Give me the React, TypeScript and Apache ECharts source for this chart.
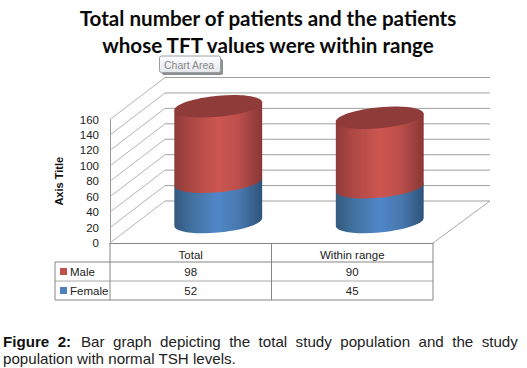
import React, { useEffect, useRef } from "react";
import * as echarts from "echarts";

const categories = ["Total", "Within range"];
const maleValues = [98, 90];
const femaleValues = [52, 45];
const yTicks = [0, 20, 40, 60, 80, 100, 120, 140, 160];
const seriesRows = [
  { name: "Male", color: "#c0504d", values: maleValues },
  { name: "Female", color: "#4f81bd", values: femaleValues },
];
const titleText = "Total number of patients and the patients\nwhose TFT values were within range";
const captionBold = "Figure  2:";
const captionLine1 = "Bar  graph  depicting  the  total  study  population  and  the  study";
const captionLine2 = "population with normal TSH levels.";

const G = { left: 110, right: 433, top: 119.5, bottom: 243 };
const DEPTH = { x: 55, y: 42 };

const redGrad = () =>
  new echarts.graphic.LinearGradient(0, 0, 1, 0, [
    { offset: 0, color: "#8e3a38" },
    { offset: 0.18, color: "#ab4744" },
    { offset: 0.5, color: "#cd5650" },
    { offset: 0.72, color: "#bd4f4b" },
    { offset: 1, color: "#893836" },
  ]);
const blueGrad = () =>
  new echarts.graphic.LinearGradient(0, 0, 1, 0, [
    { offset: 0, color: "#33597f" },
    { offset: 0.2, color: "#41719f" },
    { offset: 0.5, color: "#5087c8" },
    { offset: 0.75, color: "#4777ad" },
    { offset: 1, color: "#2f5379" },
  ]);

// half of a sheared ellipse, from the right end round the front to the left end (sign 1) or back (sign -1)
function halfEllipse(cx: number, cy: number, a: number, b: number, s: number, sign: number) {
  const k = 0.5523;
  const P = (u: number, v: number) => `${cx + u} ${cy + v - u * s}`;
  if (sign > 0) {
    return `C${P(a, k * b)} ${P(k * a, b)} ${P(0, b)}C${P(-k * a, b)} ${P(-a, k * b)} ${P(-a, 0)}`;
  }
  return `C${P(-a, -k * b)} ${P(-k * a, -b)} ${P(0, -b)}C${P(k * a, -b)} ${P(a, -k * b)} ${P(a, 0)}`;
}

function cylinderRender(isTop: boolean) {
  return (params: any, api: any) => {
    const cat = api.value(0);
    const top = api.value(1);
    const base = api.value(2);
    const band = api.size([1, 0])[0];
    const a = band * 0.272;
    const b = 10.5;
    const s = 0.09;
    const pTop = api.coord([cat, top]);
    const pBase = api.coord([cat, base]);
    const cx = pTop[0] + DEPTH.x / 2;
    const yT = pTop[1] - DEPTH.y / 2;
    const yB = pBase[1] - DEPTH.y / 2;
    const L = cx - a;
    const R = cx + a;
    const body =
      `M${L} ${yT + a * s}L${R} ${yT - a * s}L${R} ${yB - a * s}` +
      halfEllipse(cx, yB, a, b, s, 1) +
      "Z";
    const children: any[] = [
      {
        type: "path",
        shape: { pathData: body },
        style: { fill: isTop ? redGrad() : blueGrad() },
      },
    ];
    if (isTop) {
      const cap =
        `M${R} ${yT - a * s}` +
        halfEllipse(cx, yT, a, b, s, 1) +
        halfEllipse(cx, yT, a, b, s, -1) +
        "Z";
      children.push({
        type: "path",
        shape: { pathData: cap },
        style: { fill: "#8f3b3a" },
      });
    }
    return { type: "group", children };
  };
}

function wallRender(params: any, api: any) {
  const v = api.value(1);
  const p = api.coord([0, v]);
  const cs = params.coordSys;
  const x0 = cs.x;
  const backR = cs.x + cs.width + (490 - G.right);
  const y = p[1];
  const children: any[] = [
    {
      type: "line",
      shape: { x1: x0, y1: y, x2: x0 + DEPTH.x, y2: y - DEPTH.y },
      style: { stroke: "#b4b4b4", lineWidth: 1 },
    },
    {
      type: "line",
      shape: { x1: x0 + DEPTH.x, y1: y - DEPTH.y, x2: backR, y2: y - DEPTH.y },
      style: { stroke: "#a0a0a0", lineWidth: 1 },
    },
  ];
  if (v === 0) {
    children.push({
      type: "line",
      shape: { x1: cs.x + cs.width, y1: y, x2: backR, y2: y - DEPTH.y },
      style: { stroke: "#a8a8a8", lineWidth: 1 },
    });
  }
  return { type: "group", children };
}

function tableGraphics() {
  const els: any[] = [];
  const colW = (G.right - G.left) / categories.length;
  const rowTop = 262;
  const rowH = 19;
  const hx = 55;
  const line = (x1: number, y1: number, x2: number, y2: number, stroke = "#858585") => ({
    type: "line",
    silent: true,
    z: 5,
    shape: { x1, y1, x2, y2 },
    style: { stroke, lineWidth: 1 },
  });
  els.push(line(hx, rowTop, G.right, rowTop));
  els.push(line(hx, rowTop + rowH, G.right, rowTop + rowH, "#aaaaaa"));
  els.push(line(hx, rowTop + rowH * 2, G.right, rowTop + rowH * 2));
  els.push(line(hx, rowTop, hx, rowTop + rowH * 2));
  for (let c = 0; c <= categories.length; c++) {
    const x = G.left + colW * c;
    els.push(line(x, G.bottom, x, rowTop + rowH * 2));
  }
  seriesRows.forEach((row, r) => {
    const cy = rowTop + rowH * r + rowH / 2;
    els.push({
      type: "rect",
      z: 5,
      shape: { x: 60, y: cy - 3.5, width: 7, height: 7 },
      style: { fill: row.color },
    });
    els.push({
      type: "text",
      z: 5,
      x: 70,
      y: cy,
      style: { text: row.name, font: "11.5px 'Liberation Sans'", fill: "#222", textAlign: "left", textVerticalAlign: "middle" },
    });
    row.values.forEach((val, c) => {
      els.push({
        type: "text",
        z: 5,
        x: G.left + colW * (c + 0.5),
        y: cy,
        style: { text: String(val), font: "11.5px 'Liberation Sans'", fill: "#222", textAlign: "center", textVerticalAlign: "middle" },
      });
    });
  });
  return els;
}

function chartAreaTip() {
  return [
    { type: "rect", z: 6, shape: { x: 162, y: 59, width: 61, height: 16, r: 2 }, style: { fill: "#8a8f8f" } },
    {
      type: "rect",
      z: 7,
      shape: { x: 159.5, y: 56, width: 61, height: 16.5, r: 2 },
      style: {
        fill: new echarts.graphic.LinearGradient(0, 0, 0, 1, [
          { offset: 0, color: "#ffffff" },
          { offset: 1, color: "#e4e6ea" },
        ]),
        stroke: "#9a9fa6",
        lineWidth: 1,
      },
    },
    {
      type: "text",
      z: 8,
      x: 164,
      y: 64.5,
      style: { text: "Chart Area", font: "10.5px 'Liberation Sans'", fill: "#8a8a8a", textAlign: "left", textVerticalAlign: "middle" },
    },
  ];
}

function captionGraphics() {
  const font = "15.15px 'Liberation Sans'";
  return [
    { type: "text", x: 3, y: 341, style: { text: captionBold, font: "bold 15.15px 'Liberation Sans'", fill: "#111", textVerticalAlign: "middle" } },
    { type: "text", x: 81, y: 341, style: { text: captionLine1, font, fill: "#222", textVerticalAlign: "middle" } },
    { type: "text", x: 3, y: 358, style: { text: captionLine2, font, fill: "#222", textVerticalAlign: "middle" } },
  ];
}

export default function App() {
  const ref = useRef<HTMLDivElement>(null);
  useEffect(() => {
    const chart = echarts.init(ref.current!, null, { renderer: "svg" });
    chart.setOption({
      animation: false,
      backgroundColor: "#ffffff",
      title: {
        text: titleText,
        left: 263,
        top: -1,
        textAlign: "center",
        textStyle: { fontFamily: "Lato", fontWeight: "bold", fontSize: 20.6, lineHeight: 27, color: "#0a0a0a" },
      },
      grid: { left: G.left, top: G.top, width: G.right - G.left, height: G.bottom - G.top },
      xAxis: {
        type: "category",
        data: categories,
        axisLine: { show: true, lineStyle: { color: "#858585" } },
        axisTick: { show: false },
        axisLabel: { margin: 6, fontFamily: "Liberation Sans", fontSize: 11.5, color: "#222" },
        splitLine: { show: false },
      },
      yAxis: {
        type: "value",
        min: 0,
        max: 160,
        interval: 20,
        name: "Axis Title",
        nameLocation: "middle",
        nameGap: 46,
        nameRotate: 90,
        nameTextStyle: { fontFamily: "Liberation Sans", fontWeight: "bold", fontSize: 11, color: "#111" },
        axisLine: { show: true, lineStyle: { color: "#999" } },
        axisTick: { show: false },
        axisLabel: { margin: 11, fontFamily: "Liberation Sans", fontSize: 11.5, color: "#222" },
        splitLine: { show: false },
      },
      series: [
        {
          type: "custom",
          name: "Grid",
          z: 1,
          silent: true,
          renderItem: wallRender,
          data: yTicks.map((t) => [0, t]),
          encode: { x: 0, y: 1 },
        },
        {
          type: "custom",
          name: "Female",
          z: 2,
          renderItem: cylinderRender(false),
          data: femaleValues.map((v, i) => [i, v, 0]),
          encode: { x: 0, y: 1 },
        },
        {
          type: "custom",
          name: "Male",
          z: 3,
          renderItem: cylinderRender(true),
          data: maleValues.map((v, i) => [i, v + femaleValues[i], femaleValues[i]]),
          encode: { x: 0, y: 1 },
        },
      ],
      graphic: [...tableGraphics(), ...chartAreaTip(), ...captionGraphics()],
    });
    return () => chart.dispose();
  }, []);
  return <div ref={ref} style={{ position: "absolute", left: 0, top: 0, width: 527, height: 368 }} />;
}
